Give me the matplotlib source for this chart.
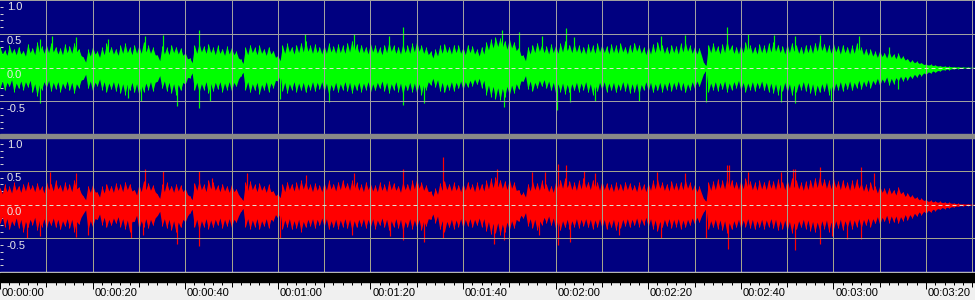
import numpy as np
import matplotlib.pyplot as plt
import matplotlib.transforms as mtransforms
from matplotlib.patches import Rectangle

# ================================
# Data: one value per second
# *_upper / *_lower = peak of that second,
# *_core_* = trough level between that second and the next
# ================================
seconds = np.arange(211)

left_upper = [
    .30, .26, .33, .28, .31, .25, .35, .29, .38, .32,
    .34, .36, .31, .29, .35, .32, .37, .28, .15, .27,
    .31, .24, .30, .36, .31, .28, .33, .36, .30, .34,
    .33, .38, .33, .30, .18, .32, .30, .34, .31, .29,
    .22, .14, .33, .36, .32, .35, .30, .33, .28, .32,
    .30, .24, .12, .30, .34, .30, .33, .28, .31, .25,
    .18, .33, .36, .31, .34, .37, .40, .33, .35, .31,
    .33, .36, .32, .35, .33, .37, .40, .35, .34, .31,
    .36, .33, .30, .34, .38, .33, .31, .35, .33, .36,
    .39, .33, .30, .24, .27, .33, .35, .31, .34, .33,
    .30, .34, .32, .27, .31, .38, .42, .45, .44, .40,
    .43, .38, .30, .18, .31, .34, .37, .34, .32, .35,
    .33, .36, .39, .34, .36, .33, .31, .35, .33, .36,
    .34, .32, .35, .33, .36, .31, .34, .37, .33, .30,
    .32, .35, .38, .33, .31, .34, .32, .36, .38, .33,
    .31, .29, .06, .34, .36, .32, .35, .40, .33, .31,
    .34, .38, .33, .31, .35, .33, .36, .38, .34, .32,
    .35, .37, .33, .31, .34, .33, .37, .40, .35, .33,
    .36, .32, .34, .31, .33, .36, .30, .28, .27, .24,
    .25, .22, .24, .20, .21, .17, .13, .11, .09, .07,
    .05, .045, .035, .025, .02, .015, .012, .01, .008, .006,
    .005,
]
left_lower = [
    -.30, -.34, -.28, -.36, -.31, -.33, -.29, -.37, -.42, -.33,
    -.30, -.35, -.32, -.36, -.31, -.34, -.38, -.30, -.17, -.31,
    -.35, -.27, -.33, -.36, -.32, -.35, -.38, -.40, -.34, -.37,
    -.41, -.36, -.33, -.35, -.20, -.31, -.35, -.38, -.40, -.34,
    -.25, -.15, -.34, -.37, -.33, -.38, -.35, -.32, -.36, -.33,
    -.35, -.28, -.12, -.33, -.37, -.34, -.39, -.33, -.36, -.30,
    -.20, -.35, -.38, -.33, -.36, -.34, -.37, -.33, -.35, -.32,
    -.36, -.40, -.34, -.37, -.33, -.35, -.38, -.34, -.36, -.33,
    -.37, -.34, -.31, -.35, -.38, -.33, -.36, -.40, -.34, -.36,
    -.38, -.40, -.33, -.26, -.29, -.35, -.37, -.33, -.35, -.31,
    -.33, -.29, -.27, -.25, -.30, -.40, -.43, -.46, -.48, -.44,
    -.41, -.38, -.32, -.20, -.32, -.35, -.30, -.28, -.31, -.34,
    -.38, -.36, -.39, -.37, -.34, -.36, -.33, -.37, -.40, -.35,
    -.33, -.36, -.34, -.37, -.33, -.35, -.38, -.36, -.40, -.33,
    -.35, -.37, -.34, -.36, -.33, -.35, -.32, -.34, -.37, -.33,
    -.31, -.28, -.08, -.36, -.33, -.35, -.32, -.36, -.33, -.30,
    -.34, -.36, -.33, -.35, -.31, -.34, -.36, -.38, -.40, -.35,
    -.37, -.41, -.36, -.33, -.35, -.38, -.41, -.37, -.35, -.40,
    -.36, -.33, -.35, -.32, -.34, -.30, -.32, -.28, -.30, -.25,
    -.27, -.22, -.26, -.24, -.20, -.20, -.18, -.16, -.14, -.12,
    -.10, -.08, -.07, -.05, -.035, -.03, -.02, -.015, -.01, -.01,
    -.005,
]
left_core_upper = [
    .20, .18, .21, .19, .20, .17, .22, .19, .23, .21,
    .22, .23, .20, .19, .22, .21, .23, .18, .08, .17,
    .20, .15, .19, .22, .20, .18, .21, .22, .19, .21,
    .21, .23, .21, .19, .10, .20, .19, .22, .20, .18,
    .13, .07, .21, .23, .21, .22, .19, .21, .18, .20,
    .19, .14, .06, .19, .22, .19, .21, .18, .20, .15,
    .10, .21, .23, .20, .22, .23, .24, .21, .22, .20,
    .21, .23, .21, .22, .21, .23, .24, .22, .22, .20,
    .23, .21, .19, .22, .24, .21, .20, .22, .21, .23,
    .24, .21, .19, .14, .17, .21, .22, .20, .22, .21,
    .19, .22, .20, .17, .20, .26, .29, .31, .30, .27,
    .29, .25, .18, .10, .20, .22, .24, .22, .20, .22,
    .21, .23, .25, .22, .23, .21, .20, .22, .21, .23,
    .22, .20, .22, .21, .23, .20, .22, .24, .21, .19,
    .20, .22, .24, .21, .20, .22, .20, .23, .24, .21,
    .20, .18, .03, .22, .23, .20, .22, .25, .21, .20,
    .22, .24, .21, .20, .22, .21, .23, .24, .22, .20,
    .22, .24, .21, .20, .22, .21, .24, .25, .22, .21,
    .23, .20, .22, .20, .21, .23, .19, .18, .17, .15,
    .16, .14, .15, .13, .13, .11, .08, .07, .06, .045,
    .035, .03, .022, .016, .013, .01, .008, .006, .005, .004,
    .003,
]
left_core_lower = [
    -.20, -.22, -.18, -.23, -.20, -.21, -.19, -.24, -.26, -.21,
    -.19, -.22, -.21, -.23, -.20, -.22, -.24, -.19, -.10, -.20,
    -.22, -.17, -.21, -.23, -.21, -.22, -.24, -.25, -.22, -.24,
    -.26, -.23, -.21, -.22, -.12, -.20, -.22, -.24, -.25, -.22,
    -.15, -.08, -.22, -.24, -.21, -.24, -.22, -.21, -.23, -.21,
    -.22, -.17, -.07, -.21, -.24, -.22, -.25, -.21, -.23, -.19,
    -.12, -.22, -.24, -.21, -.23, -.22, -.24, -.21, -.22, -.21,
    -.23, -.25, -.22, -.24, -.21, -.22, -.24, -.22, -.23, -.21,
    -.24, -.22, -.20, -.22, -.24, -.21, -.23, -.25, -.22, -.23,
    -.24, -.25, -.21, -.16, -.18, -.22, -.24, -.21, -.22, -.20,
    -.21, -.19, -.17, -.16, -.19, -.26, -.28, -.30, -.31, -.28,
    -.26, -.24, -.20, -.12, -.20, -.22, -.19, -.18, -.20, -.22,
    -.24, -.23, -.25, -.24, -.22, -.23, -.21, -.24, -.25, -.22,
    -.21, -.23, -.22, -.24, -.21, -.22, -.24, -.23, -.25, -.21,
    -.22, -.24, -.22, -.23, -.21, -.22, -.20, -.22, -.24, -.21,
    -.20, -.18, -.04, -.23, -.21, -.22, -.20, -.23, -.21, -.19,
    -.22, -.23, -.21, -.22, -.20, -.22, -.23, -.24, -.25, -.22,
    -.24, -.26, -.23, -.21, -.22, -.24, -.26, -.24, -.22, -.25,
    -.23, -.21, -.22, -.20, -.22, -.19, -.20, -.18, -.19, -.16,
    -.17, -.14, -.16, -.15, -.13, -.13, -.12, -.10, -.09, -.08,
    -.065, -.05, -.045, -.032, -.022, -.018, -.012, -.009, -.006, -.006,
    -.003,
]
right_upper = [
    .25, .30, .27, .33, .28, .31, .34, .29, .32, .27,
    .35, .31, .36, .29, .33, .30, .37, .26, .12, .28,
    .30, .18, .27, .31, .28, .32, .30, .34, .31, .22,
    .30, .35, .32, .29, .15, .30, .33, .28, .31, .29,
    .24, .12, .32, .35, .30, .37, .33, .29, .31, .28,
    .30, .23, .10, .33, .35, .30, .32, .28, .30, .20,
    .16, .30, .34, .31, .33, .36, .34, .30, .32, .29,
    .33, .36, .31, .34, .37, .32, .36, .33, .30, .34,
    .31, .29, .33, .30, .35, .32, .28, .34, .31, .36,
    .38, .33, .29, .20, .24, .32, .35, .31, .33, .29,
    .32, .34, .30, .33, .31, .36, .39, .41, .37, .35,
    .38, .33, .22, .18, .31, .35, .32, .36, .30, .28,
    .34, .37, .39, .35, .33, .36, .40, .34, .37, .33,
    .35, .32, .30, .33, .31, .34, .32, .29, .33, .30,
    .32, .36, .38, .33, .31, .35, .32, .34, .37, .33,
    .30, .27, .08, .33, .35, .38, .36, .40, .37, .34,
    .36, .39, .35, .33, .36, .34, .37, .35, .38, .34,
    .37, .40, .36, .33, .35, .37, .40, .42, .38, .36,
    .39, .35, .37, .33, .36, .38, .32, .30, .33, .27,
    .28, .24, .25, .22, .26, .19, .17, .14, .11, .09,
    .07, .06, .05, .045, .035, .03, .02, .015, .01, .01,
    .005,
]
right_lower = [
    -.28, -.33, -.37, -.31, -.35, -.40, -.34, -.30, -.38, -.33,
    -.36, -.31, -.34, -.37, -.32, -.35, -.40, -.29, -.13, -.38,
    -.33, -.22, -.30, -.34, -.31, -.28, -.33, -.36, -.40, -.25,
    -.37, -.33, -.35, -.31, -.16, -.32, -.35, -.38, -.41, -.34,
    -.26, -.12, -.34, -.38, -.33, -.36, -.34, -.31, -.35, -.32,
    -.34, -.26, -.10, -.33, -.36, -.33, -.37, -.32, -.35, -.24,
    -.20, -.36, -.33, -.37, -.35, -.40, -.34, -.32, -.35, -.31,
    -.33, -.37, -.34, -.36, -.33, -.35, -.38, -.34, -.32, -.35,
    -.33, -.36, -.31, -.34, -.38, -.33, -.35, -.39, -.33, -.36,
    -.34, -.38, -.32, -.22, -.27, -.37, -.40, -.34, -.36, -.33,
    -.35, -.32, -.34, -.31, -.33, -.39, -.44, -.42, -.45, -.41,
    -.38, -.35, -.25, -.20, -.32, -.35, -.38, -.30, -.27, -.31,
    -.36, -.38, -.34, -.37, -.33, -.35, -.32, -.34, -.36, -.33,
    -.35, -.37, -.34, -.38, -.35, -.32, -.34, -.31, -.33, -.30,
    -.33, -.36, -.39, -.34, -.32, -.35, -.33, -.36, -.34, -.31,
    -.29, -.26, -.10, -.37, -.34, -.36, -.38, -.42, -.37, -.34,
    -.36, -.33, -.35, -.37, -.34, -.36, -.33, -.35, -.38, -.36,
    -.39, -.42, -.37, -.34, -.36, -.39, -.41, -.38, -.36, -.40,
    -.37, -.35, -.38, -.34, -.36, -.33, -.35, -.31, -.33, -.28,
    -.30, -.25, -.27, -.26, -.28, -.24, -.23, -.20, -.17, -.15,
    -.13, -.11, -.09, -.07, -.06, -.05, -.035, -.025, -.02, -.015,
    -.01,
]
right_core_upper = [
    .16, .19, .17, .21, .18, .20, .22, .19, .21, .17,
    .22, .20, .23, .19, .21, .19, .23, .17, .07, .18,
    .19, .11, .17, .20, .18, .21, .19, .22, .20, .14,
    .19, .22, .21, .19, .09, .19, .21, .18, .20, .19,
    .15, .07, .21, .22, .19, .23, .21, .19, .20, .18,
    .19, .15, .06, .21, .22, .19, .21, .18, .19, .13,
    .10, .19, .22, .20, .21, .23, .22, .19, .21, .19,
    .21, .23, .20, .22, .24, .21, .23, .21, .19, .22,
    .20, .19, .21, .19, .22, .21, .18, .22, .20, .23,
    .24, .21, .19, .12, .15, .21, .22, .20, .21, .19,
    .21, .22, .19, .21, .20, .23, .25, .26, .24, .22,
    .24, .21, .14, .11, .20, .22, .21, .23, .19, .18,
    .22, .24, .25, .22, .21, .23, .25, .22, .24, .21,
    .22, .21, .19, .21, .20, .22, .21, .19, .21, .19,
    .21, .23, .24, .21, .20, .22, .21, .22, .24, .21,
    .19, .17, .05, .21, .22, .24, .23, .25, .24, .22,
    .23, .25, .22, .21, .23, .22, .24, .22, .24, .22,
    .24, .25, .23, .21, .22, .24, .25, .27, .24, .23,
    .25, .22, .24, .21, .23, .24, .20, .19, .21, .17,
    .18, .15, .16, .14, .16, .12, .11, .09, .07, .06,
    .045, .038, .032, .028, .022, .018, .013, .01, .007, .006,
    .003,
]
right_core_lower = [
    -.18, -.21, -.24, -.20, -.22, -.25, -.22, -.19, -.24, -.21,
    -.23, -.20, -.22, -.24, -.21, -.22, -.25, -.19, -.08, -.24,
    -.21, -.14, -.19, -.22, -.20, -.18, -.21, -.23, -.25, -.16,
    -.24, -.21, -.22, -.20, -.10, -.21, -.22, -.24, -.26, -.22,
    -.17, -.07, -.22, -.24, -.21, -.23, -.22, -.20, -.22, -.21,
    -.22, -.17, -.06, -.21, -.23, -.21, -.24, -.21, -.22, -.15,
    -.13, -.23, -.21, -.24, -.22, -.25, -.22, -.21, -.22, -.20,
    -.21, -.24, -.22, -.23, -.21, -.22, -.24, -.22, -.21, -.22,
    -.21, -.23, -.20, -.22, -.24, -.21, -.22, -.25, -.21, -.23,
    -.22, -.24, -.21, -.14, -.17, -.24, -.25, -.22, -.23, -.21,
    -.22, -.21, -.22, -.20, -.21, -.25, -.28, -.27, -.29, -.26,
    -.24, -.22, -.16, -.12, -.21, -.22, -.24, -.19, -.17, -.20,
    -.23, -.24, -.22, -.24, -.21, -.22, -.21, -.22, -.23, -.21,
    -.22, -.24, -.22, -.24, -.22, -.21, -.22, -.20, -.21, -.19,
    -.21, -.23, -.25, -.22, -.21, -.22, -.21, -.23, -.22, -.20,
    -.19, -.17, -.06, -.24, -.22, -.23, -.24, -.27, -.24, -.22,
    -.23, -.21, -.22, -.24, -.22, -.23, -.21, -.22, -.24, -.23,
    -.25, -.27, -.24, -.22, -.23, -.25, -.26, -.24, -.23, -.26,
    -.24, -.22, -.24, -.22, -.23, -.21, -.22, -.20, -.21, -.18,
    -.19, -.16, -.17, -.17, -.18, -.15, -.15, -.13, -.11, -.10,
    -.085, -.07, -.06, -.045, -.04, -.032, -.022, -.016, -.013, -.01,
    -.006,
]

# isolated thin peaks (time in s, amplitude)
left_spike_t = [8.6, 11.2, 16.5, 23.4, 31.3, 35.3, 43.0, 65.9, 76.4, 84.0,
                87.0, 90.0, 108.5, 112.0, 117.0, 122.2, 124.0, 142.8, 148.0,
                157.0, 161.5, 167.2, 171.6, 177.0, 185.6, 192.0]
left_spike_v = [.42, .46, .45, .42, .47, .48, .55, .50, .50, .47,
                .60, .47, .56, .52, .47, .58, .45, .47, .48,
                .60, .50, .48, .46, .48, .46, .30]
left_dip_t = [8.6, 27.7, 30.5, 38.2, 43.0, 45.4, 60.5, 71.0, 87.0, 91.5,
              108.8, 120.4, 123.2, 128.6, 138.0, 152.5, 168.7, 171.6, 179.5, 193.9]
left_dip_v = [-.53, -.45, -.50, -.57, -.60, -.49, -.46, -.51, -.56, -.53,
              -.58, -.63, -.51, -.49, -.49, -.51, -.51, -.52, -.50, -.32]

right_spike_t = [10.8, 16.5, 31.3, 35.3, 43.0, 45.8, 53.3, 66.0, 76.4, 87.0,
                 90.0, 95.7, 107.4, 115.0, 117.8, 120.6, 122.2, 126.1, 128.6,
                 142.0, 148.0, 157.0, 157.5, 161.5, 168.7, 171.2, 171.8,
                 177.0, 180.0, 186.0, 188.8]
right_spike_v = [.48, .46, .53, .50, .50, .40, .46, .43, .46, .53,
                 .43, .70, .53, .48, .48, .60, .58, .50, .46,
                 .48, .47, .58, .58, .48, .48, .53, .53,
                 .55, .50, .55, .46]
right_dip_t = [5.8, 8.6, 16.5, 19.1, 28.4, 30.9, 38.2, 43.0, 60.5, 76.0,
               84.3, 87.0, 91.5, 95.7, 106.7, 108.9, 116.4, 120.6, 123.2,
               133.7, 142.8, 152.5, 157.2, 171.6, 177.0, 179.8, 183.0, 186.0]
right_dip_v = [-.50, -.46, -.48, -.45, -.49, -.45, -.58, -.61, -.50, -.45,
               -.46, -.53, -.55, -.50, -.58, -.53, -.45, -.60, -.56,
               -.45, -.50, -.50, -.66, -.68, -.58, -.46, -.51, -.51]

amp_labels = [1.0, 0.5, 0.0, -0.5]

# ================================
# Layout (pixel based, 975x300)
# ================================
W, H = 975, 300
PX_PER_SEC = 4.63
t_max = W / PX_PER_SEC
NAVY = '#000080'
PX = 0.72  # one pixel in points at dpi 100

fig = plt.figure(figsize=(W / 100, H / 100), dpi=100, facecolor='#f0f0f0')


def fy(px_from_top):
    return 1 - px_from_top / H


def interleave(a, b):
    # peak at each second, trough half a second later
    out = np.empty(2 * len(a))
    out[0::2] = a
    out[1::2] = b
    return out


def draw_channel(ax, upper, lower, core_up, core_lo, sp_t, sp_v, dp_t, dp_v,
                 color, grid_color):
    ax.set_facecolor(NAVY)
    ax.set_xlim(0, t_max)
    ax.set_ylim(-1, 1)
    for s in ax.spines.values():
        s.set_visible(False)

    # jagged body: peaks and troughs alternate
    x = interleave(seconds, seconds + 0.5)
    ax.fill_between(x, interleave(lower, core_lo), interleave(upper, core_up),
                    color=color, lw=0, zorder=2)
    ax.vlines(seconds, lower, upper, color=color, lw=PX, zorder=2)
    ax.vlines(sp_t, 0, sp_v, color=color, lw=PX * 1.2, zorder=2)
    ax.vlines(dp_t, dp_v, 0, color=color, lw=PX * 1.2, zorder=2)

    # grid
    for t in np.arange(10, t_max, 10):
        ax.axvline(t, color=grid_color, lw=PX, zorder=3)
    for v in [1.0, 0.5, -0.5]:
        ax.axhline(v, color=grid_color, lw=PX * 2 if v == 1.0 else PX, zorder=3)
    ax.axhline(0, color='#e0e0d0', lw=PX, ls=(0, (4, 3)), zorder=3)

    # small ticks on left edge
    ax.set_xticks([])
    ax.set_yticks(np.arange(-1, 1.01, 0.1))
    ax.tick_params(axis='y', direction='in', length=2.5, width=PX,
                   color='#d0d0d0', labelleft=False, pad=0)

    for v in amp_labels:
        ax.annotate(f"{v:.1f}", xy=(0, v), xytext=(5, -1.8),
                    xycoords=('axes fraction', 'data'), textcoords='offset points',
                    ha='left', va='top', fontsize=8, family='Liberation Sans',
                    color='#e8e8e8', zorder=5)


ax_top = fig.add_axes([0, fy(135), 1, 135 / H])
draw_channel(ax_top, left_upper, left_lower, left_core_upper, left_core_lower,
             left_spike_t, left_spike_v, left_dip_t, left_dip_v,
             '#00ff00', '#a0a0a0')

ax_bot = fig.add_axes([0, fy(272), 1, 135 / H])
draw_channel(ax_bot, right_upper, right_lower, right_core_upper, right_core_lower,
             right_spike_t, right_spike_v, right_dip_t, right_dip_v,
             '#ff0000', '#a4a48c')

# separator between channels and black strip above the ruler
fig.patches.append(Rectangle((0, fy(138)), 1, 4 / H, transform=fig.transFigure,
                             color='#888888', zorder=10))
fig.patches.append(Rectangle((0, fy(273)), 1, 1 / H, transform=fig.transFigure,
                             color='#e0e0e0', zorder=10))
fig.patches.append(Rectangle((0, fy(282)), 1, 9 / H, transform=fig.transFigure,
                             color='black', zorder=10))

# ================================
# Time ruler
# ================================
ax_time = fig.add_axes([0, 0, 1, 18 / H])
ax_time.set_facecolor('#f0f0f0')
ax_time.set_xlim(0, t_max)
ax_time.set_ylim(0, 1)
ax_time.axis('off')
trans = mtransforms.blended_transform_factory(ax_time.transData, ax_time.transAxes)

minor = [t for t in np.arange(0, t_max, 2) if t % 10 != 0]
medium = [t for t in np.arange(0, t_max, 10) if t % 20 != 0]
major = list(np.arange(0, t_max, 20))
ax_time.vlines(minor, 1 - 3 / 18, 1, color='black', lw=PX, transform=trans)
ax_time.vlines(medium, 1 - 5 / 18, 1, color='black', lw=PX, transform=trans)
ax_time.vlines(major, 1 - 7 / 18, 1, color='black', lw=PX, transform=trans)

for t in major:
    t = int(t)
    label = f"00:{t // 60:02d}:{t % 60:02d}"
    ax_time.text(t + 1.8 / PX_PER_SEC, 0.38, label, transform=trans,
                 ha='left', va='center', fontsize=8, family='Liberation Sans',
                 color='black')

fig.savefig('out.png', dpi=100, facecolor=fig.get_facecolor())
